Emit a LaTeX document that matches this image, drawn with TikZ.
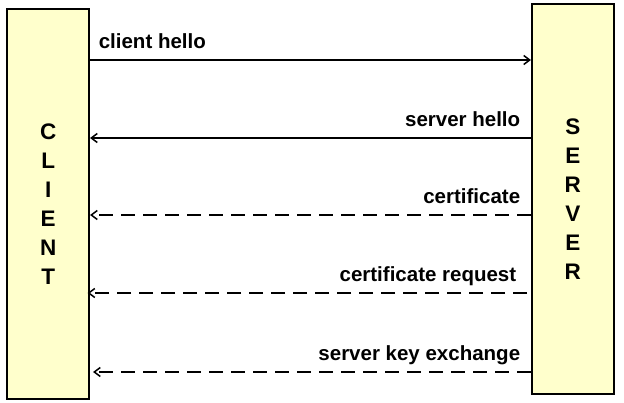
\documentclass[tikz,border=0pt]{standalone}
\usepackage{fontspec}
\setmainfont{Liberation Sans}
\usetikzlibrary{positioning,arrows.meta,calc}
\definecolor{paleyellow}{HTML}{FFFFCC}
\tikzset{
    x=1pt,
    y=-1pt,
    peer/.style = {
        draw,
        shape=rectangle,
        fill=paleyellow,
        line width=1.6pt,
        minimum width=82pt,
        minimum height=390pt,
        align=center,
        font=\fontsize{22.5}{29}\selectfont\bfseries
    },
    msg/.style = {
        line width=1.5pt
    },
    optional/.style = {
        msg,
        dash pattern=on 14pt off 8pt
    },
    lbl/.style = {
        font=\fontsize{20.5}{24}\selectfont\bfseries,
        inner sep=0pt
    },
    >={Straight Barb[length=6pt,width=9pt]},
}

\begin{document}
\begin{tikzpicture}
            \useasboundingbox (0,0) rectangle (624,403);

            \node[peer] (client) at (48.25,204) {C\\L\\I\\E\\N\\T};
            \node[peer] (server) at (572.75,199) {S\\E\\R\\V\\E\\R};

            \coordinate (m1) at (0,60);
            \coordinate (m2) at (0,138);
            \coordinate (m3) at (0,215);
            \coordinate (m4) at (0,293);
            \coordinate (m5) at (0,372);
            \coordinate (m4end) at (527,293);

            \path[draw, ->, msg] (m1 -| client.east) -- (m1 -| server.west)
                node [lbl, at start, anchor=base west, xshift=8pt, yshift=11pt] {client hello};
            \path[draw, ->, msg] (m2 -| server.west) -- (m2 -| client.east)
                node [lbl, at start, anchor=base east, xshift=-10pt, yshift=11pt] {server hello};

            \path[draw, ->, optional] (m3 -| server.west) -- (m3 -| client.east)
                node [lbl, at start, anchor=base east, xshift=-10pt, yshift=11pt] {certificate};
            \path[draw, ->, optional] (m4end) -- ($(m4 -| client.east)+(-2.5,0)$)
                node [lbl, at start, anchor=base east, xshift=-10pt, yshift=11pt] {certificate request};
            \path[draw, ->, optional] (m5 -| server.west) -- ($(m5 -| client.east)+(3,0)$)
                node [lbl, at start, anchor=base east, xshift=-10pt, yshift=11pt] {server key exchange};

        \end{tikzpicture}
\end{document}
